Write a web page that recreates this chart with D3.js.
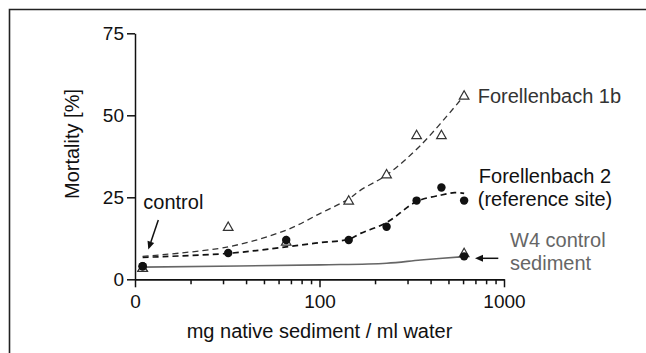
<!DOCTYPE html>
<html><head><meta charset="utf-8">
<script src="https://cdn.jsdelivr.net/npm/d3@7"></script>
<style>
html,body{margin:0;padding:0;background:#fff;}
svg{display:block;font-family:"Liberation Sans",Arial,Helvetica,sans-serif;}
</style></head>
<body><svg id="c" width="646" height="353"></svg>
<script>
// ---- data ----
const doses = [11, 32, 66, 144, 231, 336, 458, 608];
const fb1b = [3.5, 16, 11.5, 24, 32, 44, 44, 56];
const fb2 = [4, 8, 12, 12, 16, 24, 28, 24];
const w4Doses = [11, 608];
const w4Tri = [3.5, 8];
const w4Dot = [4, 7];

const fit1bX = [11, 32, 66, 101, 144, 167, 231, 354, 608];
const fit1bY = [7.0, 9.9, 15.0, 20.1, 24.5, 27.2, 31.8, 40.9, 56];
const fit2X = [11, 32, 66, 101, 144, 167, 231, 336, 458, 540, 608];
const fit2Y = [6.7, 7.9, 9.9, 11.2, 12.2, 14, 17.3, 23.7, 25.7, 26.4, 26.2];
const fitW4X = [11, 101, 231, 354, 608];
const fitW4Y = [3.7, 4.4, 4.9, 5.9, 6.9];

const yTicks = [0, 25, 50, 75];
const xMajor = [10, 100, 1000];
const xMajorLabels = ["0", "100", "1000"];
const xMinor = [20,30,40,50,60,70,80,90,200,300,400,500,600,700,800,900];

// ---- drawing ----
const svg = d3.select("#c");
const x = d3.scaleLog().domain([10, 1000]).range([135, 504]);
const y = d3.scaleLinear().domain([0, 75]).range([279.3, 33.3]);

// frame (left + top)
svg.append("path").attr("d", "M9.5,353 L9.5,9.5 L646,9.5")
  .attr("fill", "none").attr("stroke", "#222").attr("stroke-width", 1.6);

// y axis
const ya = svg.append("g").attr("transform", "translate(135,0)")
  .call(d3.axisLeft(y).tickValues(yTicks).tickSize(8).tickSizeOuter(0).tickPadding(3));
ya.selectAll("text").attr("font-size", 19).attr("fill", "#111").attr("font-family", "Liberation Sans, Arial, sans-serif");
ya.selectAll("line,path").attr("stroke", "#111").attr("stroke-width", 1.5);

// x axis minor
const xm = svg.append("g").attr("transform", "translate(0,279.3)")
  .call(d3.axisBottom(x).tickValues(xMinor).tickSize(5).tickSizeOuter(0).tickFormat(""));
xm.selectAll("line,path").attr("stroke", "#111").attr("stroke-width", 1.5);
// x axis major
const xa = svg.append("g").attr("transform", "translate(0,279.3)")
  .call(d3.axisBottom(x).tickValues(xMajor).tickSize(8).tickSizeOuter(0).tickPadding(7)
    .tickFormat((d, i) => xMajorLabels[i]));
xa.selectAll("text").attr("font-size", 19).attr("fill", "#111").attr("font-family", "Liberation Sans, Arial, sans-serif");
xa.selectAll("line,path").attr("stroke", "#111").attr("stroke-width", 1.5);

// axis titles
svg.append("text").attr("x", 319.5).attr("y", 338).attr("text-anchor", "middle")
  .attr("font-size", 20).attr("fill", "#111").text("mg native sediment / ml water");
svg.append("text").attr("transform", "translate(79,144) rotate(-90)").attr("text-anchor", "middle")
  .attr("font-size", 20).attr("fill", "#111").text("Mortality [%]");

// fit lines
const line = d3.line().x(d => x(d[0])).y(d => y(d[1])).curve(d3.curveCatmullRom);
svg.append("path").datum(fitW4X.map((v, i) => [v, fitW4Y[i]])).attr("d", line)
  .attr("fill", "none").attr("stroke", "#666").attr("stroke-width", 1.6);
svg.append("path").datum(fit2X.map((v, i) => [v, fit2Y[i]])).attr("d", line)
  .attr("fill", "none").attr("stroke", "#111").attr("stroke-width", 1.7).attr("stroke-dasharray", "6,4");
svg.append("path").datum(fit1bX.map((v, i) => [v, fit1bY[i]])).attr("d", line)
  .attr("fill", "none").attr("stroke", "#333").attr("stroke-width", 1.3).attr("stroke-dasharray", "6,4");

// markers
const tri = "M0,-4.8 L4.8,3.6 L-4.8,3.6 Z";
function triangles(xs, ys) {
  svg.append("g").selectAll("path").data(xs.map((v, i) => [v, ys[i]])).join("path")
    .attr("d", tri).attr("transform", d => `translate(${x(d[0])},${y(d[1])})`)
    .attr("fill", "#fff").attr("stroke", "#333").attr("stroke-width", 1.2);
}
function dots(xs, ys) {
  svg.append("g").selectAll("circle").data(xs.map((v, i) => [v, ys[i]])).join("circle")
    .attr("cx", d => x(d[0])).attr("cy", d => y(d[1])).attr("r", 4.2).attr("fill", "#111");
}
triangles(doses, fb1b);
triangles(w4Doses, w4Tri);
dots(doses, fb2);
dots(w4Doses, w4Dot);

// labels
svg.append("text").attr("x", 477.7).attr("y", 102.7).attr("font-size", 20).attr("fill", "#333").text("Forellenbach 1b");
svg.append("text").attr("x", 545).attr("y", 183.3).attr("text-anchor", "middle").attr("font-size", 20).attr("fill", "#111").text("Forellenbach 2");
svg.append("text").attr("x", 545).attr("y", 205.5).attr("text-anchor", "middle").attr("font-size", 20).attr("fill", "#111").text("(reference site)");
svg.append("text").attr("x", 510).attr("y", 246.7).attr("font-size", 20).attr("fill", "#666").text("W4 control");
svg.append("text").attr("x", 510).attr("y", 270).attr("font-size", 20).attr("fill", "#666").text("sediment");
svg.append("text").attr("x", 143.3).attr("y", 209.3).attr("font-size", 20).attr("fill", "#111").text("control");

// arrows
function arrow(x1, y1, x2, y2) {
  const ang = Math.atan2(y2 - y1, x2 - x1);
  const L = 8, W = 3.5;
  const bx = x2 - L * Math.cos(ang), by = y2 - L * Math.sin(ang);
  svg.append("line").attr("x1", x1).attr("y1", y1).attr("x2", bx).attr("y2", by)
    .attr("stroke", "#111").attr("stroke-width", 1.5);
  const px = -Math.sin(ang) * W, py = Math.cos(ang) * W;
  svg.append("path").attr("d", `M${x2},${y2} L${bx + px},${by + py} L${bx - px},${by - py} Z`).attr("fill", "#111");
}
arrow(158.3, 220, 148.3, 249.5);
arrow(498.3, 258.3, 475, 258.3);
</script></body></html>
